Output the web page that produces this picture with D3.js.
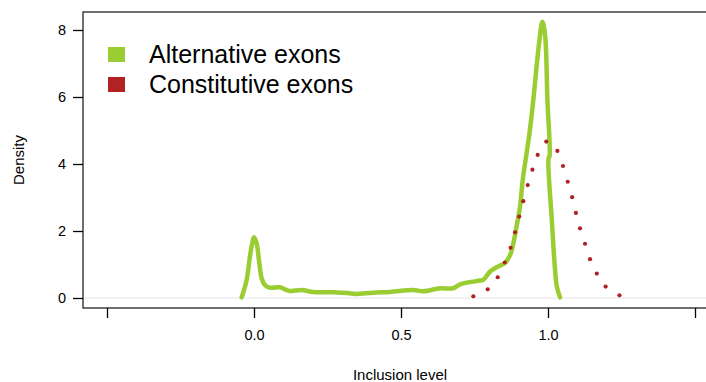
<!DOCTYPE html>
<html>
<head>
<meta charset="utf-8">
<script src="https://cdn.jsdelivr.net/npm/d3@7"></script>
<style>
  body { margin: 0; background: #fff; }
  text { font-family: "Liberation Sans", Arial, Helvetica, sans-serif; fill: #000; }
</style>
</head>
<body>
<div id="viz"></div>
<script>
var width = 706
var height = 382

// density of alternative exons (inclusion level, density)
var altX = [-0.042, -0.025, -0.014, -0.006, 0, 0.009, 0.018, 0.026, 0.037, 0.054, 0.088, 0.105, 0.122, 0.162, 0.202, 0.269, 0.337, 0.349, 0.405, 0.463, 0.541, 0.575, 0.633, 0.677, 0.701, 0.769, 0.78, 0.803, 0.826, 0.854, 0.871, 0.882, 0.893, 0.905, 0.914, 0.937, 0.95, 0.961, 0.971, 0.981, 0.99, 0.998, 1.005, 1.002, 1.013, 1.024, 1.03, 1.041]
var altY = [0.02, 0.54, 1.23, 1.63, 1.81, 1.63, 1.04, 0.59, 0.39, 0.31, 0.32, 0.26, 0.21, 0.24, 0.18, 0.17, 0.13, 0.12, 0.16, 0.18, 0.24, 0.2, 0.29, 0.29, 0.41, 0.52, 0.54, 0.79, 0.92, 1.05, 1.28, 1.63, 2.13, 2.73, 3.52, 4.92, 5.91, 6.9, 7.7, 8.25, 7.85, 5.91, 4.22, 4.18, 2.33, 0.84, 0.34, 0.02]

// density of constitutive exons (dotted line samples)
var conX = [0.746, 0.795, 0.829, 0.853, 0.873, 0.888, 0.902, 0.916, 0.931, 0.947, 0.965, 0.994, 1.032, 1.051, 1.067, 1.082, 1.095, 1.109, 1.126, 1.143, 1.166, 1.196, 1.243]
var conY = [0.05, 0.26, 0.62, 1.06, 1.5, 1.96, 2.43, 2.89, 3.37, 3.83, 4.27, 4.67, 4.39, 3.94, 3.47, 3.01, 2.54, 2.08, 1.62, 1.16, 0.73, 0.34, 0.08]

var xTicks = [-0.5, 0, 0.5, 1, 1.5]
var xTickLabels = ["", "0.0", "0.5", "1.0", ""]
var yTicks = [0, 2, 4, 6, 8]
var legendNames = ["Alternative exons", "Constitutive exons"]
var legendColors = ["#9acd32", "#b22222"]

var svg = d3.select("#viz")
    .append("svg")
    .attr("width", width)
    .attr("height", height);

var x = d3.scaleLinear().domain([-0.5, 1.5]).range([107, 695]);
var y = d3.scaleLinear().domain([0, 8]).range([298, 30]);

var box = {left: 83, top: 12, right: 718, bottom: 308};

// faint zero line
svg.append("line")
    .attr("x1", box.left).attr("x2", box.right)
    .attr("y1", y(0)).attr("y2", y(0))
    .style("stroke", "#f2f2f2")
    .style("stroke-width", 2);

// box
svg.append("rect")
    .attr("x", box.left).attr("y", box.top)
    .attr("width", box.right - box.left)
    .attr("height", box.bottom - box.top)
    .style("fill", "none")
    .style("stroke", "#222")
    .style("stroke-width", 1.3);

// x axis
var xAxis = svg.append("g")
    .attr("transform", "translate(0," + box.bottom + ")")
    .call(d3.axisBottom(x).tickValues(xTicks)
        .tickFormat(function(d, i) { return xTickLabels[i]; })
        .tickSize(10).tickPadding(12));
xAxis.select(".domain").remove();
xAxis.selectAll("line").style("stroke", "#000").style("stroke-width", 1.3);
xAxis.selectAll("text").style("font-size", "14.5px").style("font-family", null);

// y axis
var yAxis = svg.append("g")
    .attr("transform", "translate(" + box.left + ",0)")
    .call(d3.axisLeft(y).tickValues(yTicks).tickSize(10).tickPadding(7));
yAxis.select(".domain").remove();
yAxis.selectAll("line").style("stroke", "#000").style("stroke-width", 1.3);
yAxis.selectAll("text").style("font-size", "14.5px").style("font-family", null);

// axis titles
svg.append("text")
    .attr("x", 400).attr("y", 380)
    .attr("text-anchor", "middle")
    .style("font-size", "15px")
    .text("Inclusion level");

svg.append("text")
    .attr("transform", "translate(23.5,160) rotate(-90)")
    .attr("text-anchor", "middle")
    .style("font-size", "15px")
    .text("Density");

// alternative exons density
var altData = altX.map(function(v, i) { return [v, altY[i]]; });
var line = d3.line()
    .x(function(d) { return x(d[0]); })
    .y(function(d) { return y(d[1]); })
    .curve(d3.curveCatmullRom.alpha(0.5));

svg.append("path")
    .datum(altData)
    .attr("d", line)
    .style("fill", "none")
    .style("stroke", legendColors[0])
    .style("stroke-width", 4.5)
    .style("stroke-linecap", "round")
    .style("stroke-linejoin", "round");

// constitutive exons density (dotted)
var conData = conX.map(function(v, i) { return [v, conY[i]]; });
svg.append("g")
    .selectAll("circle")
    .data(conData)
    .enter().append("circle")
        .attr("cx", function(d) { return x(d[0]); })
        .attr("cy", function(d) { return y(d[1]); })
        .attr("r", 2.1)
        .style("fill", legendColors[1]);

// legend
var legend = svg.append("g")
    .selectAll("g")
    .data(legendNames)
    .enter().append("g")
    .attr("transform", function(d, i) { return "translate(108," + (47 + i * 30) + ")"; });

legend.append("rect")
    .attr("width", 17).attr("height", 15)
    .style("fill", function(d, i) { return legendColors[i]; });

legend.append("text")
    .attr("x", 41).attr("y", 16)
    .style("font-size", "25px")
    .text(function(d) { return d; });
</script>
</body>
</html>
